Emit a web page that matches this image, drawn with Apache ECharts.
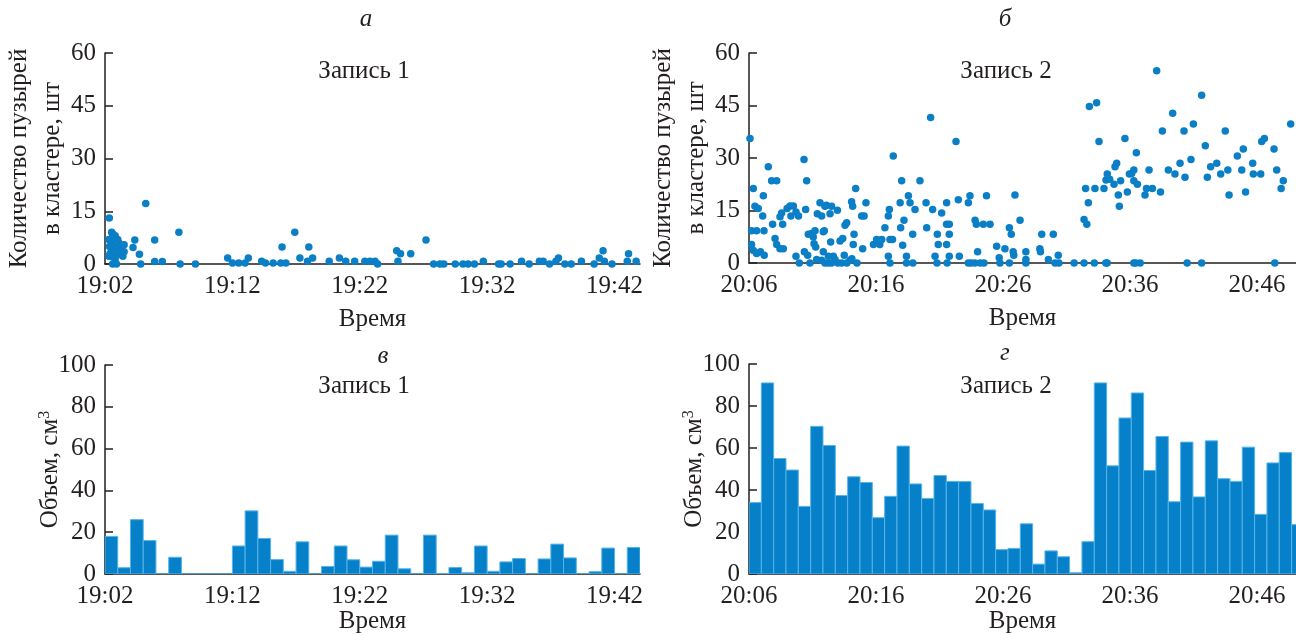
<!DOCTYPE html>
<html>
<head>
<meta charset="utf-8">
<script src="https://cdn.jsdelivr.net/npm/echarts@6/dist/echarts.min.js"></script>
<style>
html,body{margin:0;padding:0;background:#fff;}
#chart{width:1296px;height:635px;}
</style>
</head>
<body>
<div id="chart"></div>
<script>
// ---------- DATA ----------
// time in minutes after the start label, count of bubbles in cluster
const rec1Start = '19:02';
const rec2Start = '20:06';
const rec1TickLabels = ['19:02', '19:12', '19:22', '19:32', '19:42'];
const rec2TickLabels = ['20:06', '20:16', '20:26', '20:36', '20:46'];

const rec1Points = [
  [0.34,13.1],[0.52,9.0],[0.3,7.0],[0.5,6.0],[0.7,5.0],[0.9,4.0],[0.4,3.0],[0.6,2.0],[0.8,8.0],[0.6,8.6],
  [1.0,7.0],[1.1,6.0],[1.2,5.0],[1.3,4.0],[0.5,4.5],[0.9,2.5],[1.2,3.0],[1.5,5.5],[0.6,7.2],[1.0,3.5],
  [0.35,5.0],[1.5,3.5],[0.8,1.5],[0.3,2.2],[1.4,2.2],[0.6,0],[0.9,0],
  [2.34,6.8],[2.2,4.7],[2.7,2.8],[3.2,17.2],[3.9,6.8],[5.8,9.0],[3.9,0.7],[4.5,0.7],[2.8,0],[5.9,0],[7.1,0],
  [9.63,1.7],[10.0,0.3],[10.5,0.3],[11.0,0.3],[11.25,1.7],[12.3,0.8],[12.6,0.3],[13.2,0.3],[13.8,0.3],[14.2,0.3],
  [13.9,4.8],[14.9,9.0],[15.3,1.7],[16.0,4.8],[16.3,1.7],[15.9,0.8],[17.6,0.8],[18.4,1.7],[18.9,0.8],[19.6,0.8],
  [20.4,0.8],[21.2,0.8],[20.8,0.8],[21.4,0],[22.9,3.8],[23.0,0.8],[23.2,2.9],[24.0,2.9],[25.2,6.8],[25.8,0],
  [26.3,0],[26.6,0],[27.5,0],[28.1,0],[28.5,0],[29.0,0],[29.7,0.8],[30.9,0],[31.1,0],[31.8,0],
  [32.7,0.8],[33.3,0],[34.1,0.8],[34.4,0.8],[34.9,0],[35.4,0.8],[35.6,1.7],[36.1,0],[36.6,0],[37.4,0.8],
  [38.4,0],[38.8,1.7],[39.1,3.8],[39.2,0.8],[39.8,0],[41.1,2.9],[41.0,0.8],[41.7,0.8]
];

const rec2Points = [
  [0.08,35.6],[0.2,9.2],[0.6,9.2],[0.2,5.3],[0.34,21.3],[0.47,16.2],[0.73,15.6],[0.35,3.6],[0.6,2.7],[0.9,3.2],
  [1.2,2.2],[1.08,13.4],[1.13,19.2],[1.18,9.2],[1.52,27.5],[1.78,23.5],[2.18,23.5],[1.86,11.1],[2.05,7.0],[2.18,5.3],
  [2.44,4.1],[2.7,4.1],[2.44,13.2],[2.65,11.1],[2.57,14.3],[3.0,15.6],[3.23,16.3],[3.49,16.3],[3.3,13.4],[3.7,14.6],
  [3.9,13.4],[3.7,1.9],[3.96,0],[4.33,29.6],[4.54,23.5],[4.46,15.3],[4.36,3.2],[4.62,2.2],[4.67,8.2],[4.8,0],
  [4.93,8.4],[5.06,7.4],[5.12,5.5],[5.25,4.6],[5.2,9.2],[5.33,1.0],[5.38,14.1],[5.59,17.2],[5.72,13.4],[5.85,8.9],
  [5.93,9.2],[5.98,16.2],[6.1,16.5],[5.72,0.8],[5.98,0],[6.25,0],[5.85,3.2],[6.25,1.9],[6.43,6.0],[6.5,0],
  [6.38,14.1],[6.5,16.2],[6.64,1.9],[6.77,1.0],[6.96,15.1],[7.17,6.3],[7.38,7.0],[7.5,2.2],[7.56,10.8],[7.69,11.5],
  [7.0,0],[7.3,0],[7.7,0],[7.95,0.8],[8.1,1.2],[8.08,17.5],[8.16,16.2],[8.27,8.2],[8.21,5.3],[8.4,21.3],
  [8.5,0],[8.87,13.4],[9.06,13.4],[8.95,4.1],[9.21,17.2],[9.8,5.3],[10.05,6.7],[10.3,5.3],[10.45,6.7],[10.7,10.1],
  [10.97,13.4],[10.97,1.9],[11.1,0],[11.05,15.3],[11.1,6.7],[11.3,6.7],[11.36,30.6],[11.9,17.2],[11.94,10.1],[12.02,23.5],
  [12.1,5.1],[12.2,12.2],[12.4,1.9],[12.55,19.2],[12.68,17.2],[12.89,8.2],[12.4,0],[12.9,0],[13.07,15.3],[13.46,23.5],
  [13.94,17.2],[13.99,10.1],[14.3,41.6],[14.46,15.3],[14.65,1.9],[14.8,0],[14.83,8.2],[14.9,5.3],[15.17,14.3],[15.56,17.2],
  [15.56,11.1],[15.77,11.1],[15.56,5.3],[15.6,0],[15.77,8.2],[15.77,1.9],[16.3,34.7],[16.48,18.1],[16.56,1.9],[17.27,17.2],
  [17.4,19.2],[17.27,0],[17.5,0],[17.8,0],[17.8,12.2],[17.9,11.1],[18.0,3.2],[18.2,0],[18.5,0],[18.45,11.1],
  [18.7,19.2],[18.98,11.1],[19.5,4.8],[19.7,1.5],[19.76,0],[20.15,4.1],[20.5,10.1],[20.65,8.2],[20.5,0],[20.8,3.2],
  [20.85,2.2],[20.94,19.4],[21.34,12.2],[21.8,0],[21.8,1.0],[21.8,3.2],[22.9,4.1],[22.95,3.2],[23.05,8.2],[23.57,1.0],
  [23.96,8.2],[24.1,0],[24.35,2.2],[24.4,0],[25.6,0],[26.38,12.4],[26.6,11.1],[26.38,0],[26.5,21.3],[26.72,17.2],
  [26.8,44.7],[27.19,0],[27.24,21.3],[27.37,45.8],[27.56,34.7],[27.95,21.3],[28.1,0],[28.2,0],[28.11,23.7],[28.21,25.4],
  [28.4,23.9],[28.74,22.5],[28.82,27.5],[28.95,28.5],[29.08,19.4],[29.16,16.2],[29.26,23.5],[29.6,35.6],[29.79,20.3],[29.95,25.4],
  [30.13,25.6],[30.3,26.6],[30.3,0],[30.45,0],[30.8,0],[30.3,23.5],[30.5,31.5],[30.58,22.5],[31.18,19.4],[31.3,21.3],
  [31.5,26.6],[31.76,21.3],[32.1,54.9],[32.4,20.3],[32.55,37.7],[33.02,26.6],[33.36,42.8],[33.54,25.4],[33.94,28.5],[34.25,37.7],
  [34.33,24.5],[34.5,0],[34.8,29.6],[34.99,39.7],[35.64,47.9],[35.64,0],[35.93,33.5],[36.09,24.5],[36.35,27.5],[36.83,28.5],
  [37.14,25.4],[37.5,37.7],[37.7,26.6],[37.8,19.4],[38.45,30.6],[38.8,26.6],[38.92,32.6],[39.1,20.3],[39.66,28.5],[39.71,25.4],
  [40.29,25.4],[40.37,34.7],[40.58,35.6],[41.34,32.6],[41.4,0],[41.55,26.6],[41.9,21.3],[42.07,23.5],[42.65,39.7]
];

// volume per time bin, cm^3
const rec1BinMinutes = 1.0;
const rec1Volumes = [18, 3, 26, 16, 0, 8, 0, 0, 0, 0, 13.4, 30.2, 17, 6.9, 1.3, 15.4, 0, 3.6, 13.4, 6.8,
  3.3, 6.1, 18.6, 2.5, 0, 18.6, 0.2, 3.1, 0.6, 13.4, 1.3, 5.8, 7.4, 0, 7.2, 14.3, 7.7, 0, 1.1, 12.4, 0, 12.7];
const rec2BinMinutes = 0.971;
const rec2Volumes = [34, 91, 55, 49.5, 32.2, 70.3, 61.2, 37.4, 46.3, 43.6, 26.8, 37, 60.9, 42.9, 36, 46.9, 44.1, 44, 33.6, 30.5,
  11.6, 12.2, 23.9, 4.7, 11, 8.2, 0.6, 15.4, 91, 51.5, 74.3, 86.2, 49.3, 65.5, 34.4, 62.8, 36.7, 63.4, 45.4, 44.1,
  60.4, 28.4, 52.9, 57.8, 23.5];

// ---------- CHART ----------
const FONT = 'Liberation Serif';
const INK = '#231f20';
const DOT = '#0a7fc6';
const BAR = '#0681c9';
const BAR_EDGE = '#55b4e8';

function toMin(s){ const p = s.split(':'); return (+p[0])*60 + (+p[1]); }
function fmtTime(base){
  return function(v){
    const m = Math.round(toMin(base) + v);
    const h = Math.floor(m/60), mm = m % 60;
    return h + ':' + (mm < 10 ? '0' : '') + mm;
  };
}
function binData(vals, w){ return vals.map((v,i) => [i*w, v, w]); }

const chart = echarts.init(document.getElementById('chart'), null, {renderer:'canvas'});

const textBase = {fontFamily: FONT, color: INK, fontSize: 25, fontWeight: 'normal'};
const richName2 = {t: {fontFamily: FONT, color: INK, fontSize: 25, lineHeight: 33}};
const richVol = {
  t: {fontFamily: FONT, color: INK, fontSize: 25},
  sup: {fontFamily: FONT, color: INK, fontSize: 16, verticalAlign: 'top', padding: [0,0,10,0]}
};

function makeX(gridIndex, max, base, nameGap){
  return {
    type: 'value', gridIndex, min: 0, max, interval: 10,
    axisLine: {show: true, onZero: false, lineStyle: {color: INK, width: 1.5}},
    axisTick: {show: false},
    splitLine: {show: false},
    axisLabel: Object.assign({}, textBase, {margin: 10, formatter: fmtTime(base), showMaxLabel: false, showMinLabel: true}),
    name: 'Время', nameLocation: 'middle', nameGap, nameMoveOverlap: false,
    nameTextStyle: Object.assign({}, textBase)
  };
}
function makeY(gridIndex, max, interval, name, nameGap, rich){
  return {
    type: 'value', gridIndex, min: 0, max, interval,
    axisLine: {show: true, lineStyle: {color: INK, width: 1.5}},
    axisTick: {show: true, inside: true, length: 8, lineStyle: {color: INK, width: 1.5}},
    splitLine: {show: false},
    axisLabel: Object.assign({}, textBase, {margin: 9}),
    name, nameLocation: 'middle', nameGap, nameMoveOverlap: false,
    nameTextStyle: Object.assign({}, textBase, {rich})
  };
}

function histSeries(xi, yi, data){
  return {
    type: 'custom', xAxisIndex: xi, yAxisIndex: yi, clip: true,
    data,
    renderItem: function(params, api){
      const x0 = api.value(0), v = api.value(1), w = api.value(2);
      const p0 = api.coord([x0, v]);
      const p1 = api.coord([x0 + w, 0]);
      return {
        type: 'rect',
        shape: {x: p0[0], y: p0[1], width: p1[0]-p0[0], height: p1[1]-p0[1]},
        style: {fill: BAR, stroke: BAR_EDGE, lineWidth: 1}
      };
    }
  };
}

function titleText(text, left, top, italic){
  return {text, left, top, textAlign: 'center',
    textStyle: Object.assign({}, textBase, italic ? {fontStyle: 'italic'} : {})};
}

const countName = '{t|Количество пузырей}\n{t|в кластере, шт}';
const volName = '{t|Объем, см}{sup|3}';

const option = {
  backgroundColor: '#fff',
  animation: false,
  textStyle: {fontFamily: FONT, color: INK},
  title: [
    titleText('а', 361, 2, true),
    titleText('Запись 1', 359, 54, false),
    titleText('б', 1000, 2, true),
    titleText('Запись 2', 1001, 54, false),
    titleText('в', 378, 339, true),
    titleText('Запись 1', 359, 369, false),
    titleText('г', 1000, 336, true),
    titleText('Запись 2', 1001, 369, false)
  ],
  grid: [
    {left: 105, top: 53, width: 535, height: 211},
    {left: 749, top: 53, width: 547, height: 210},
    {left: 105, top: 365, width: 535, height: 212},
    {left: 749, top: 364, width: 547, height: 213}
  ],
  xAxis: [
    makeX(0, 42, rec1Start, 43),
    makeX(1, 43.07, rec2Start, 43),
    makeX(2, 42, rec1Start, 35),
    makeX(3, 43.07, rec2Start, 35)
  ],
  yAxis: [
    makeY(0, 60, 15, countName, 36, richName2),
    makeY(1, 60, 15, countName, 36, richName2),
    makeY(2, 100, 20, volName, 42, richVol),
    makeY(3, 100, 20, volName, 42, richVol)
  ],
  series: [
    {type: 'scatter', xAxisIndex: 0, yAxisIndex: 0, data: rec1Points, symbolSize: 7.5, itemStyle: {color: DOT, opacity: 1}},
    {type: 'scatter', xAxisIndex: 1, yAxisIndex: 1, data: rec2Points, symbolSize: 7.5, itemStyle: {color: DOT, opacity: 1}},
    histSeries(2, 2, binData(rec1Volumes, rec1BinMinutes)),
    histSeries(3, 3, binData(rec2Volumes, rec2BinMinutes))
  ]
};
chart.setOption(option);
</script>
</body>
</html>
